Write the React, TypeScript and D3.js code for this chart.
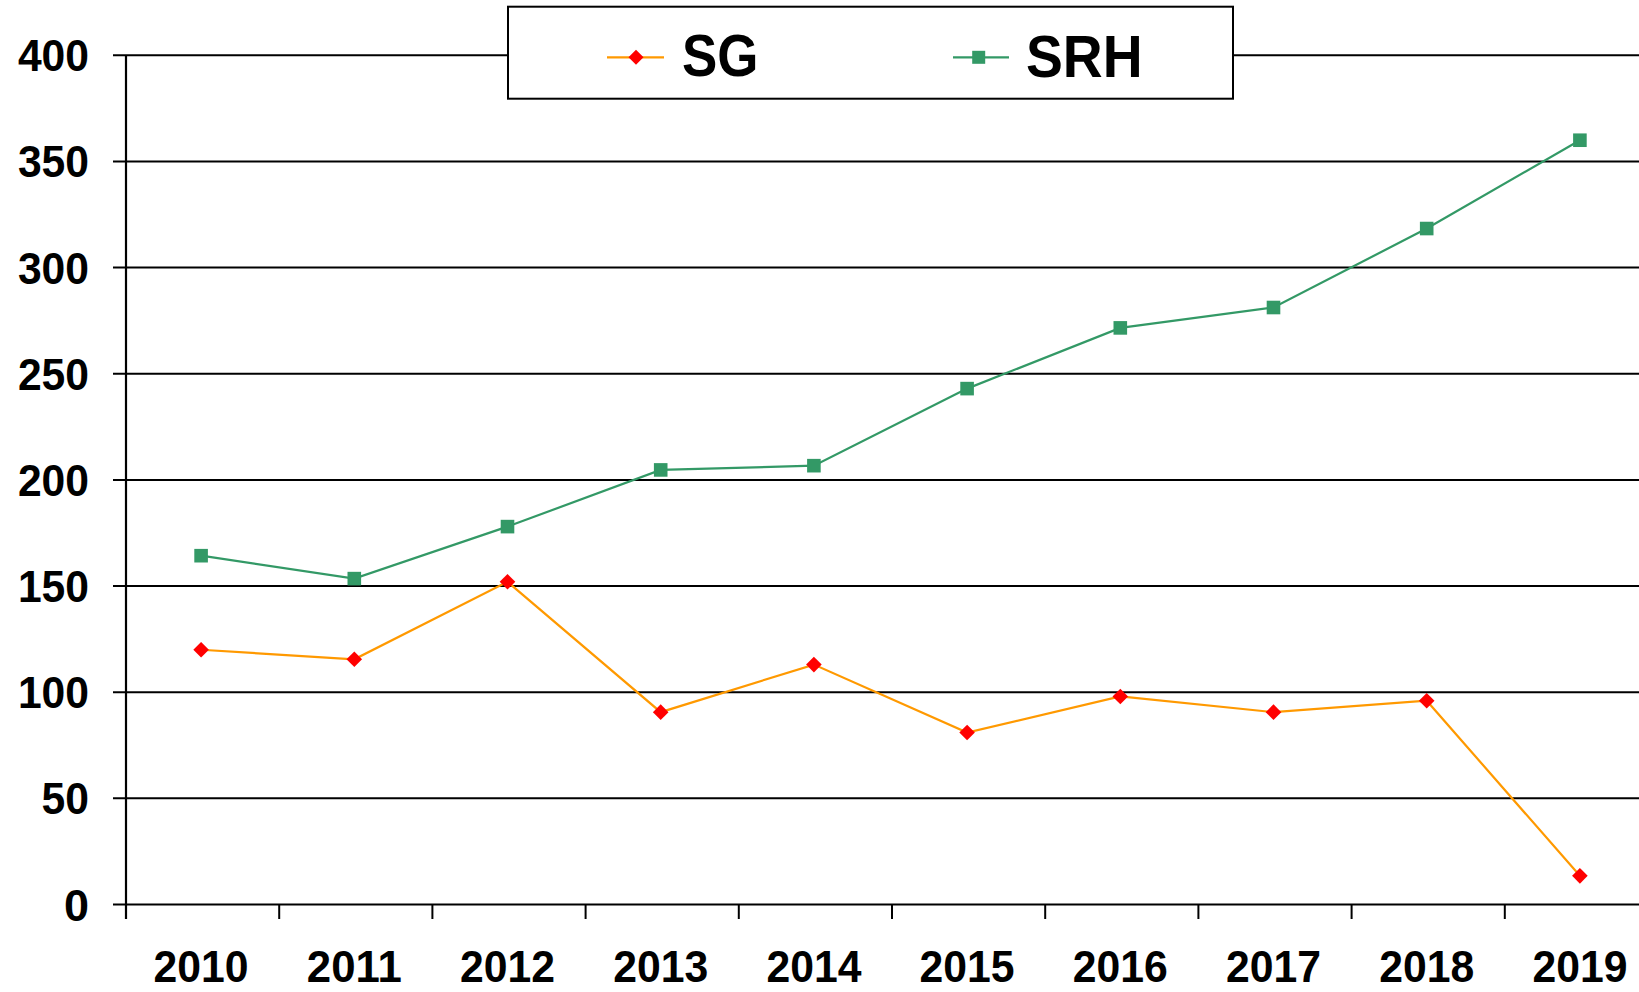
import React from "react";
import * as d3 from "d3";

const years = ["2010", "2011", "2012", "2013", "2014", "2015", "2016", "2017", "2018", "2019"];
const sgValues = [120, 115.5, 152, 90.6, 113, 81, 98, 90.6, 96, 13.5];
const srhValues = [164.3, 153.5, 178, 204.7, 206.7, 243, 271.6, 281.2, 318.4, 360];
const yTicks = [0, 50, 100, 150, 200, 250, 300, 350, 400];

const W = 1639;
const H = 992;
const axisX = 126;
const band = 153.2;
const FONT = "'Liberation Sans', Arial, sans-serif";

export default function App() {
  const x = d3
    .scaleBand<string>()
    .domain(years)
    .range([axisX, axisX + band * years.length])
    .paddingInner(0)
    .paddingOuter(0);
  const y = d3.scaleLinear().domain([0, 400]).range([904.5, 55.3]);
  const cx = (yr: string) => (x(yr) as number) + x.bandwidth() / 2 - 1.5;

  const line = d3
    .line<number>()
    .x((_, i) => cx(years[i]))
    .y((v) => y(v));

  const orange = "#FF9900";
  const red = "#FF0000";
  const green = "#339966";

  const diamond = (px: number, py: number, r = 7.8) =>
    `M${px},${py - r}L${px + r},${py}L${px},${py + r}L${px - r},${py}Z`;

  const tickXs = years.map((yr) => x(yr) as number);

  return (
    <svg
      width={W}
      height={H}
      style={{ position: "absolute", left: 0, top: 0, background: "#fff" }}
    >
      {yTicks.map((t) => (
        <line key={"g" + t} x1={axisX - 13} x2={W} y1={y(t)} y2={y(t)} stroke="#000" strokeWidth={2} />
      ))}
      <line x1={axisX} x2={axisX} y1={y(400)} y2={919} stroke="#000" strokeWidth={2.2} />
      {tickXs.map((tx, i) => (
        <line key={"xt" + i} x1={tx} x2={tx} y1={y(0)} y2={919} stroke="#000" strokeWidth={2} />
      ))}
      {yTicks.map((t) => (
        <text
          key={"yl" + t}
          x={89}
          y={y(t) + 16}
          textAnchor="end"
          fontFamily={FONT}
          fontWeight="bold"
          fontSize={45}
          textLength={t === 0 ? undefined : String(t).length * 23.7}
          lengthAdjust="spacingAndGlyphs"
        >
          {t}
        </text>
      ))}
      {years.map((yr) => (
        <text
          key={"xl" + yr}
          x={cx(yr)}
          y={982}
          textAnchor="middle"
          fontFamily={FONT}
          fontWeight="bold"
          fontSize={45}
          textLength={95}
          lengthAdjust="spacingAndGlyphs"
        >
          {yr}
        </text>
      ))}
      <path d={line(srhValues) || ""} fill="none" stroke={green} strokeWidth={2.2} />
      <path d={line(sgValues) || ""} fill="none" stroke={orange} strokeWidth={2.2} />
      {srhValues.map((v, i) => (
        <rect key={"sq" + i} x={cx(years[i]) - 6.8} y={y(v) - 6.8} width={13.6} height={13.6} fill={green} />
      ))}
      {sgValues.map((v, i) => (
        <path key={"dm" + i} d={diamond(cx(years[i]), y(v))} fill={red} />
      ))}
      <rect x={508} y={6.7} width={725} height={92} fill="#fff" stroke="#000" strokeWidth={2} />
      <line x1={607} x2={664} y1={57.3} y2={57.3} stroke={orange} strokeWidth={2.2} />
      <path d={diamond(636, 57.3, 7.5)} fill={red} />
      <text
        x={682}
        y={76}
        fontFamily={FONT}
        fontWeight="bold"
        fontSize={60}
        textLength={76.5}
        lengthAdjust="spacingAndGlyphs"
      >
        SG
      </text>
      <line x1={953} x2={1009} y1={57.3} y2={57.3} stroke={green} strokeWidth={2.2} />
      <rect x={978.7 - 6.5} y={57.3 - 6.5} width={13} height={13} fill={green} />
      <text
        x={1026}
        y={76.5}
        fontFamily={FONT}
        fontWeight="bold"
        fontSize={60}
        textLength={116.7}
        lengthAdjust="spacingAndGlyphs"
      >
        SRH
      </text>
    </svg>
  );
}
